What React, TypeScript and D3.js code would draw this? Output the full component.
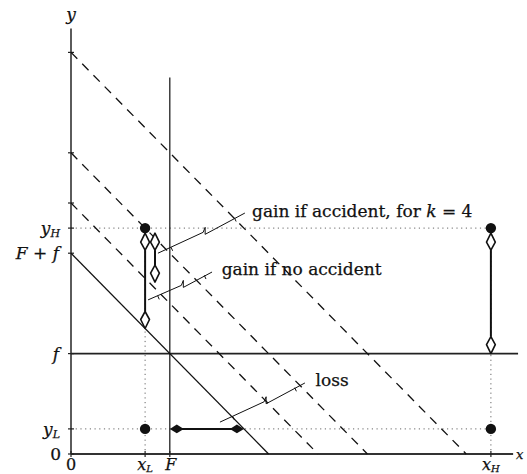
import React from "react";
import * as d3 from "d3";

// ---- data (model units) ----
const yTickValues = [0, 1, 4, 8, 9];
const yTickLabels = ["0", "yL", "f", "F+f", "yH"];
const yExtraTicks = [10, 12, 16];
const xTickValues = [0, 3, 4, 17];
const xTickLabels = ["0", "xL", "F", "xH"];
const solidIntercept = 8; // F + f
const dashedIntercepts = [10, 12, 16];
const fLevel = 4;
const F = 4;
const xL = 3;
const xH = 17;
const yL = 1;
const yH = 9;
const dotPoints = [
  { x: xL, y: yH },
  { x: xL, y: yL },
  { x: xH, y: yH },
  { x: xH, y: yL },
];
const hollowArrows = [
  { x: 3, y1: 9, y2: 5 },
  { x: 3.4, y1: 9, y2: 6.85 },
  { x: 17, y1: 9, y2: 4 },
];
const filledArrow = { y: 1, x1: 4, x2: 7 };
const leaderLabels = ["gain if accident, for ", "gain if no accident", "loss"];
const leaderStart = [
  [3.52, 8.0],
  [3.12, 6.14],
  [6.03, 1.27],
];
const leaderEnd = [
  [7.04, 9.6],
  [5.71, 7.25],
  [9.47, 2.83],
];
const labelPos = [
  [7.33, 9.44],
  [6.1, 7.15],
  [9.9, 2.72],
];

const W = 527;
const H = 474;

export default function App() {
  const x = d3.scaleLinear().domain([0, 18]).range([71, 71 + 18 * 24.7]);
  const y = d3.scaleLinear().domain([0, 17]).range([454, 454 - 17 * 25.1]);
  const ink = "#111";
  const serif = "'DejaVu Serif', 'Liberation Serif', serif";

  const lineEndX = (c: number) => c; // y = c - x reaches 0 at x = c

  const hollowHead = (tx: number, ty: number, dir: number) => {
    const L = 17, Wd = 4.4, M = 9;
    return `M${tx},${ty} L${tx + Wd},${ty - dir * M} L${tx},${ty - dir * L} L${tx - Wd},${ty - dir * M} Z`;
  };
  const filledHead = (tx: number, ty: number, dir: number) => {
    const L = 14, Wd = 4.4, M = 7;
    return `M${tx},${ty} L${tx - dir * M},${ty - Wd} L${tx - dir * L},${ty} L${tx - dir * M},${ty + Wd} Z`;
  };

  const leaderPath = (i: number) => {
    const x0 = x(leaderStart[i][0]), y0 = y(leaderStart[i][1]);
    const x1 = x(leaderEnd[i][0]), y1 = y(leaderEnd[i][1]);
    const t = 0.52;
    const ax = x0 + (x1 - x0) * t, ay = y0 + (y1 - y0) * t;
    const bx = ax + 2, by = ay - 5;
    const cx = bx, cy = by + 7;
    return `M${x0},${y0} L${ax},${ay} L${bx},${by} L${cx},${cy} L${x1},${y1}`;
  };
  const leaderTicks = (i: number) => {
    const x0 = x(leaderStart[i][0]), y0 = y(leaderStart[i][1]);
    const x1 = x(leaderEnd[i][0]), y1 = y(leaderEnd[i][1]);
    const dx = x1 - x0, dy = y1 - y0;
    const len = Math.hypot(dx, dy);
    const nx = -dy / len, ny = dx / len;
    return [0.15, 0.88].map((t) => {
      const px = x0 + dx * t, py = y0 + dy * t;
      return `M${px},${py} L${px + nx * 4},${py + ny * 4}`;
    });
  };

  const textStyle = { stroke: ink, strokeWidth: 0.25 };

  const yLabel = (lab: string, v: number, i: number) => {
    const yy = y(v) + 6;
    const common = { fontFamily: serif, fontSize: 17, fill: ink, textAnchor: "end" as const, style: textStyle };
    if (lab === "yL" || lab === "yH")
      return (
        <text key={i} x={60} y={yy} {...common}>
          <tspan fontStyle="italic">y</tspan>
          <tspan fontStyle="italic" fontSize={11} dy={3}>{lab[1]}</tspan>
        </text>
      );
    if (lab === "F+f")
      return (
        <text key={i} x={59} y={yy} {...common}>
          <tspan fontStyle="italic">F</tspan>
          <tspan> + </tspan>
          <tspan fontStyle="italic">f</tspan>
        </text>
      );
    if (lab === "f")
      return (
        <text key={i} x={59} y={yy} {...common} fontStyle="italic">f</text>
      );
    return (
      <text key={i} x={61} y={yy} {...common}>{lab}</text>
    );
  };

  const xLabel = (lab: string, v: number, i: number) => {
    const common = { fontFamily: serif, fontSize: 16, fill: ink, textAnchor: "middle" as const, style: textStyle };
    const yy = 470;
    if (lab === "xL" || lab === "xH")
      return (
        <text key={i} x={x(v)} y={yy} {...common}>
          <tspan fontStyle="italic">x</tspan>
          <tspan fontStyle="italic" fontSize={10} dy={2}>{lab[1]}</tspan>
        </text>
      );
    if (lab === "F")
      return (
        <text key={i} x={x(v) + 1} y={yy} {...common} fontStyle="italic">F</text>
      );
    return (
      <text key={i} x={x(v)} y={yy} {...common}>{lab}</text>
    );
  };

  return (
    <svg width={W} height={H} style={{ position: "absolute", left: 0, top: 0, background: "#fff" }}>
      {/* dotted guides */}
      <g stroke="#666" strokeWidth={1} strokeDasharray="1.2 3.5" fill="none">
        <line x1={x(0)} x2={x(xH)} y1={y(yH)} y2={y(yH)} />
        <line x1={x(0)} x2={x(xH)} y1={y(yL)} y2={y(yL)} />
        <line x1={x(xL)} x2={x(xL)} y1={y(yH)} y2={y(0)} />
        <line x1={x(xH)} x2={x(xH)} y1={y(yH)} y2={y(0)} />
      </g>

      {/* axes */}
      <line x1={x(0)} x2={x(0)} y1={y(0)} y2={y(16.95)} stroke="#333" strokeWidth={1.6} />
      <line x1={x(0)} x2={x(17.9)} y1={y(0)} y2={y(0)} stroke="#333" strokeWidth={1.8} />
      {/* f level */}
      <line x1={x(0)} x2={x(18.1)} y1={y(fLevel)} y2={y(fLevel)} stroke="#222" strokeWidth={1.6} />
      {/* F vertical */}
      <line x1={x(F)} x2={x(F)} y1={y(0)} y2={y(15)} stroke="#222" strokeWidth={1.3} />

      {/* ticks */}
      <g stroke="#222" strokeWidth={1.2}>
        {[...yTickValues, ...yExtraTicks].map((v, i) => (
          <line key={i} x1={x(0) - 3} x2={x(0) + 3} y1={y(v)} y2={y(v)} />
        ))}
        {xTickValues.map((v, i) => (
          <line key={i} x1={x(v)} x2={x(v)} y1={y(0) - 3} y2={y(0) + 3} />
        ))}
      </g>

      {/* budget lines */}
      <line
        x1={x(0)} y1={y(solidIntercept)}
        x2={x(lineEndX(solidIntercept))} y2={y(0)}
        stroke={ink} strokeWidth={1.3}
      />
      {dashedIntercepts.map((c, i) => (
        <line
          key={i}
          x1={x(0)} y1={y(c)}
          x2={x(lineEndX(c))} y2={y(0)}
          stroke={ink} strokeWidth={1.3} strokeDasharray="9 7"
        />
      ))}

      {/* dots */}
      {dotPoints.map((p, i) => (
        <circle key={i} cx={x(p.x)} cy={y(p.y)} r={5.2} fill={ink} />
      ))}

      {/* hollow vertical arrows */}
      {hollowArrows.map((a, i) => {
        const top = y(a.y1) + 5;
        const bot = y(a.y2);
        const xx = x(a.x);
        return (
          <g key={i}>
            <line x1={xx} x2={xx} y1={top + 17} y2={bot - 17} stroke={ink} strokeWidth={2} />
            <path d={hollowHead(xx, top, -1)} fill="#fff" stroke={ink} strokeWidth={1.6} strokeLinejoin="round" />
            <path d={hollowHead(xx, bot, 1)} fill="#fff" stroke={ink} strokeWidth={1.6} strokeLinejoin="round" />
          </g>
        );
      })}

      {/* filled horizontal arrow */}
      <g>
        <line x1={x(filledArrow.x1) + 10} x2={x(filledArrow.x2) - 10} y1={y(filledArrow.y)} y2={y(filledArrow.y)} stroke={ink} strokeWidth={2} />
        <path d={filledHead(x(filledArrow.x1), y(filledArrow.y), -1)} fill={ink} />
        <path d={filledHead(x(filledArrow.x2), y(filledArrow.y), 1)} fill={ink} />
      </g>

      {/* leaders */}
      {leaderLabels.map((_, i) => (
        <g key={i} stroke={ink} strokeWidth={1} fill="none">
          <path d={leaderPath(i)} />
          {leaderTicks(i).map((d, j) => (
            <path key={j} d={d} />
          ))}
        </g>
      ))}

      {/* leader labels */}
      <text x={x(labelPos[0][0])} y={y(labelPos[0][1])} fontFamily={serif} fontSize={17} fill={ink} style={textStyle}>
        {leaderLabels[0]}
        <tspan fontStyle="italic">k</tspan>
        <tspan> = 4</tspan>
      </text>
      <text x={x(labelPos[1][0])} y={y(labelPos[1][1])} fontFamily={serif} fontSize={17} fill={ink} style={textStyle}>
        {leaderLabels[1]}
      </text>
      <text x={x(labelPos[2][0])} y={y(labelPos[2][1])} fontFamily={serif} fontSize={17} fill={ink} style={textStyle}>
        {leaderLabels[2]}
      </text>

      {/* axis labels */}
      {yTickValues.map((v, i) => yLabel(yTickLabels[i], v, i))}
      {xTickValues.map((v, i) => xLabel(xTickLabels[i], v, i))}
      <text x={x(0)} y={20} textAnchor="middle" fontFamily={serif} fontStyle="italic" fontSize={17} fill={ink} style={textStyle}>y</text>
      <text x={516} y={459} fontFamily={serif} fontStyle="italic" fontSize={13} fill={ink} style={textStyle}>x</text>
    </svg>
  );
}
